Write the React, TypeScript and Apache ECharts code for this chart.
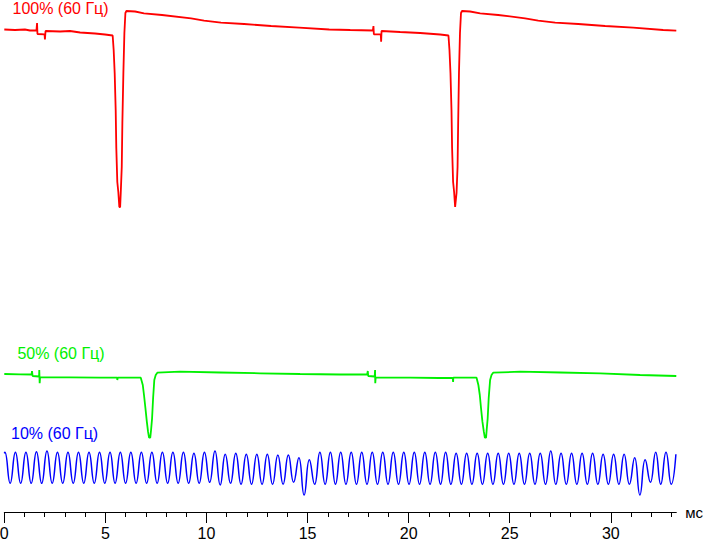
import React, { useEffect, useRef } from 'react';
import * as echarts from 'echarts';

// Time axis (ms) and tick values
const majorTicks = [0, 5, 10, 15, 20, 25, 30];
const minorTicks = [0, 1, 2, 3, 4, 5, 6, 7, 8, 9, 10, 11, 12, 13, 14, 15, 16, 17, 18, 19, 20, 21, 22, 23, 24, 25, 26, 27, 28, 29, 30, 31, 32, 33];
const xMax = 33.24;
const axisName = 'мс';

const seriesNames = ['100% (60 Гц)', '50% (60 Гц)', '10% (60 Гц)'];
const seriesColors = ['#ff0000', '#00f000', '#0000ff'];

// 100% trace (arbitrary brightness units)
const redT = [
  0, 0.53, 1.02, 1.27, 1.59, 1.62, 1.64, 1.99, 2.01, 2.04,
  2.76, 3.25, 3.75, 4.49, 4.98, 5.36, 5.41, 5.46, 5.51, 5.54,
  5.59, 5.64, 5.69, 5.73, 5.76, 5.81, 5.84, 5.89, 5.94, 5.99,
  6.04, 6.47, 6.91, 7.8, 9.24, 9.88, 10.72, 11.86, 13.2, 14.58,
  16.07, 17.11, 18.23, 18.26, 18.28, 18.62, 18.64, 18.66, 19.58, 20.57,
  21.56, 21.97, 22.02, 22.07, 22.12, 22.15, 22.2, 22.25, 22.3, 22.33,
  22.37, 22.42, 22.45, 22.49, 22.54, 22.59, 22.64, 23.04, 23.54, 24.43,
  25.76, 26.41, 27.25, 28.39, 29.72, 31.11, 32.59, 33.24,
];
const redV = [
  96.5, 96.4, 96.5, 96.3, 96.3, 97.8, 95.6, 95.54, 94.5, 96.2,
  96.1, 96.2, 95.9, 95.7, 95.5, 95.3, 92.4, 87.8, 80.4, 72.8,
  66, 64, 61, 61, 63.8, 69, 77.8, 87.8, 95.8, 99.8,
  100.2, 100.1, 99.74, 99.4, 98.74, 98.26, 97.86, 97.6, 97.2, 96.86,
  96.5, 96.4, 96.3, 97.2, 95.54, 95.54, 94.06, 96.2, 96.0, 95.8,
  95.5, 95.3, 92.4, 87.8, 80.4, 72.8, 66, 64, 61, 61,
  63.8, 69, 77.8, 87.8, 95.8, 99.8, 100.2, 100.1, 99.74, 99.4,
  98.74, 98.26, 97.86, 97.6, 97.2, 96.86, 96.4, 96.26,
];

// 50% trace
const greenT = [
  0, 0.78, 1.35, 1.37, 1.40, 1.72, 1.73, 1.75, 1.77, 3.25,
  4.74, 5.58, 5.59, 5.61, 6.75, 6.85, 6.91, 6.98, 7.05, 7.11,
  7.16, 7.22, 7.26, 7.31, 7.36, 7.42, 7.49, 7.57, 8.69, 10.67,
  12.65, 14.63, 16.61, 17.95, 17.98, 18.0, 18.32, 18.34, 18.35, 18.37,
  20.07, 21.5, 22.18, 22.2, 22.21, 23.36, 23.45, 23.52, 23.58, 23.65,
  23.72, 23.77, 23.83, 23.86, 23.91, 23.96, 24.03, 24.1, 24.18, 25.52,
  27.5, 29.48, 31.45, 33.24,
];
const greenV = [
  27.6, 27.54, 27.5, 28.2, 27.2, 27.1, 28.4, 25.74, 26.94, 26.94,
  26.86, 26.86, 26.4, 26.86, 26.86, 25.4, 23.4, 20.8, 18.06, 16.06,
  14.86, 14.86, 16.4, 18.74, 22.74, 26.4, 27.4, 27.86, 28.06, 27.9,
  27.74, 27.6, 27.5, 27.5, 28.2, 27.2, 27.1, 28.4, 25.74, 26.94,
  26.86, 26.8, 26.8, 26.0, 26.86, 26.86, 25.4, 23.4, 20.8, 18.06,
  16.06, 14.86, 14.86, 16.4, 18.74, 22.74, 26.4, 27.4, 27.86, 28.06,
  27.9, 27.74, 27.4, 27.2,
];

// 10% trace: peaks and troughs of the ripple
const blueT = [
  0,
  0.03, 0.29, 0.55, 0.81, 1.07, 1.33, 1.59, 1.85, 2.11, 2.37,
  2.63, 2.89, 3.15, 3.41, 3.67, 3.93, 4.19, 4.45, 4.71, 4.97,
  5.23, 5.48, 5.74, 6.00, 6.26, 6.52, 6.78, 7.04, 7.30, 7.56,
  7.82, 8.08, 8.34, 8.60, 8.86, 9.12, 9.38, 9.64, 9.90, 10.16,
  10.42, 10.68, 10.93, 11.19, 11.45, 11.71, 11.97, 12.23, 12.49, 12.75,
  13.01, 13.27, 13.53, 13.79, 14.05, 14.31, 14.57, 14.83, 15.09, 15.35,
  15.61, 15.87, 16.13, 16.38, 16.64, 16.90, 17.16, 17.42, 17.68, 17.94,
  18.20, 18.46, 18.72, 18.98, 19.24, 19.50, 19.76, 20.02, 20.28, 20.54,
  20.80, 21.06, 21.32, 21.58, 21.83, 22.09, 22.35, 22.61, 22.87, 23.13,
  23.39, 23.65, 23.91, 24.17, 24.43, 24.69, 24.95, 25.21, 25.47, 25.73,
  25.99, 26.25, 26.51, 26.77, 27.03, 27.28, 27.54, 27.80, 28.06, 28.32,
  28.58, 28.84, 29.10, 29.36, 29.62, 29.88, 30.14, 30.40, 30.66, 30.92,
  31.18, 31.44, 31.70, 31.96, 32.22, 32.47, 32.73, 32.99,
  33.22,
];
const blueV = [
  11.74,
  11.94, 5.74, 11.94, 5.74, 11.94, 5.74, 12.06, 5.74, 12.2, 5.74,
  11.94, 5.74, 11.94, 5.74, 11.94, 5.74, 11.94, 5.74, 11.94, 5.74,
  11.94, 5.74, 11.94, 5.74, 11.94, 5.74, 11.94, 5.74, 11.94, 5.74,
  11.94, 5.74, 11.94, 5.74, 11.94, 5.74, 11.74, 5.74, 11.94, 5.94,
  12.2, 5.4, 11.54, 5.74, 11.74, 5.54, 11.54, 5.54, 11.54, 5.54,
  11.54, 5.54, 11.4, 5.54, 11.4, 5.94, 10.86, 3.4, 10.46, 5.54,
  11.94, 5.54, 11.94, 5.54, 11.94, 5.54, 11.94, 5.54, 11.94, 5.54,
  11.94, 5.54, 11.94, 5.54, 11.94, 5.54, 11.94, 5.54, 11.94, 5.54,
  11.94, 5.54, 11.94, 5.54, 11.94, 5.54, 11.74, 5.54, 11.74, 5.54,
  11.74, 5.54, 11.74, 5.54, 11.74, 5.54, 11.74, 5.54, 11.74, 5.54,
  11.74, 5.54, 11.74, 5.54, 12.2, 5.54, 11.74, 5.54, 11.74, 5.54,
  11.74, 5.54, 11.74, 5.54, 11.54, 5.54, 11.54, 5.54, 11.54, 5.54,
  10.86, 3.4, 10.46, 5.94, 11.94, 5.54, 11.94, 5.54,
  11.54,
];

const FONT = '"Liberation Sans", Arial, sans-serif';

export default function App() {
  const ref = useRef<HTMLDivElement>(null);
  useEffect(() => {
    if (!ref.current) return;
    const chart = echarts.init(ref.current, null, { renderer: 'svg' });
    const zip = (t: number[], v: number[]) => t.map((x, i) => [x, v[i]]);
    const traces = [zip(redT, redV), zip(greenT, greenV), zip(blueT, blueV)];
    const widths = [1.8, 1.8, 1.5];
    const baseAxis = {
      type: 'value' as const,
      min: 0,
      max: xMax,
      position: 'bottom' as const,
      splitLine: { show: false },
    };
    chart.setOption({
      animation: false,
      backgroundColor: '#ffffff',
      grid: { left: 4.3, right: 26.7, top: 0, bottom: 28, outerBoundsMode: 'none' },
      xAxis: [
        {
          ...baseAxis,
          interval: 1,
          name: axisName,
          nameLocation: 'end',
          nameGap: 9,
          nameTextStyle: { fontSize: 15, fontFamily: FONT, color: '#000', verticalAlign: 'middle' },
          axisLine: { show: true, lineStyle: { color: '#000', width: 1 } },
          axisTick: { show: true, customValues: minorTicks, length: 5, lineStyle: { color: '#000', width: 1 } },
          axisLabel: { show: false },
        },
        {
          ...baseAxis,
          interval: 5,
          axisLine: { show: false },
          axisTick: { show: true, customValues: majorTicks, length: 11, lineStyle: { color: '#000', width: 1 } },
          axisLabel: {
            show: true,
            customValues: majorTicks,
            fontSize: 16,
            fontFamily: FONT,
            color: '#000',
            margin: 13,
          },
        },
      ],
      yAxis: { type: 'value', min: 0, max: 102.4, show: false, splitLine: { show: false } },
      series: traces.map((data, i) => ({
        type: 'line',
        name: seriesNames[i],
        data,
        xAxisIndex: 0,
        showSymbol: false,
        symbol: 'none',
        smooth: i === 2 ? true : false,
        lineStyle: { color: seriesColors[i], width: widths[i] },
        itemStyle: { color: seriesColors[i] },
      })),
      graphic: [
        { type: 'text', x: 12.5, y: 0, style: { text: seriesNames[0], fill: seriesColors[0], font: `16px ${FONT}`, verticalAlign: 'top', align: 'left' } },
        { type: 'text', x: 17.4, y: 345, style: { text: seriesNames[1], fill: seriesColors[1], font: `16px ${FONT}`, verticalAlign: 'top', align: 'left' } },
        { type: 'text', x: 11, y: 425, style: { text: seriesNames[2], fill: seriesColors[2], font: `16px ${FONT}`, verticalAlign: 'top', align: 'left' } },
      ],
    });
    return () => chart.dispose();
  }, []);
  return (
    <div
      ref={ref}
      style={{ position: 'fixed', left: 0, top: 0, width: 703, height: 540, background: '#fff' }}
    />
  );
}
